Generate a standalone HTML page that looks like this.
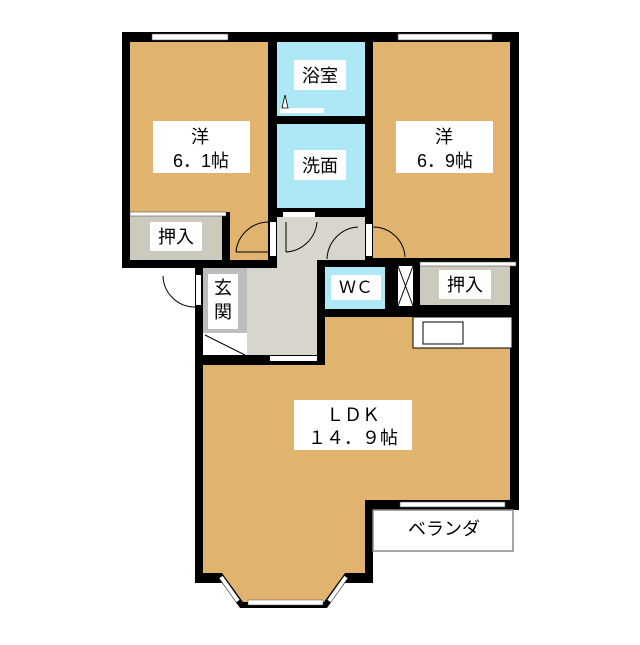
<!DOCTYPE html>
<html><head><meta charset="utf-8"><style>
body{margin:0;background:#fff}
text{font-family:"Liberation Sans","Noto Sans CJK JP",sans-serif;fill:#000}
</style></head><body>
<svg width="640" height="640" viewBox="0 0 640 640" xmlns="http://www.w3.org/2000/svg">
<rect width="640" height="640" fill="#fff"/>
<!-- black masses -->
<rect x="122" y="32" width="397" height="236" fill="#000"/>
<rect x="195" y="258" width="130" height="107" fill="#000"/>
<rect x="317" y="258" width="202" height="252" fill="#000"/>
<rect x="195" y="355" width="178" height="228" fill="#000"/>
<!-- rooms -->
<rect x="130" y="42" width="138" height="218" fill="#e0b46e"/>
<rect x="373" y="42" width="137" height="216" fill="#e0b46e"/>
<rect x="277" y="42" width="88" height="74" fill="#aee8f6"/>
<rect x="277" y="124" width="88" height="84" fill="#aee8f6"/>
<!-- left closet -->
<rect x="130" y="212" width="92" height="48" fill="#ccc9bd"/>
<rect x="222" y="212" width="8" height="48" fill="#000"/>
<rect x="130" y="212" width="96" height="4" fill="#fff" stroke="#555" stroke-width="0.6"/>
<!-- hallway -->
<rect x="277" y="217" width="88" height="43" fill="#d8d5cc"/>
<rect x="277" y="217" width="40" height="51" fill="#d8d5cc"/>
<rect x="247" y="268" width="70" height="87" fill="#d8d5cc"/>
<rect x="203" y="268" width="44" height="65" fill="#bdbdbd"/>
<rect x="208" y="274" width="30" height="55" fill="#fff"/>
<rect x="203" y="333" width="44" height="22" fill="#fff"/>
<line x1="205" y1="335" x2="245" y2="355" stroke="#000" stroke-width="1"/>
<!-- WC area -->
<rect x="325" y="267" width="60" height="42" fill="#aee8f6"/>
<rect x="398" y="266" width="15" height="40" fill="#fff"/>
<line x1="398" y1="266" x2="413" y2="306" stroke="#000"/><line x1="413" y1="266" x2="398" y2="306" stroke="#000"/>
<rect x="420" y="266" width="90" height="39" fill="#ccc9bd"/>
<rect x="420" y="262" width="96" height="4" fill="#fff" stroke="#555" stroke-width="0.6"/>
<!-- LDK -->
<rect x="325" y="317" width="185" height="183" fill="#e0b46e"/>
<rect x="203" y="365" width="162" height="208" fill="#e0b46e"/>
<rect x="325" y="317" width="40" height="60" fill="#e0b46e"/>
<rect x="270" y="356" width="47" height="5" fill="#fff"/>
<!-- kitchen -->
<rect x="413" y="317" width="99" height="31" fill="#fff" stroke="#000" stroke-width="1"/>
<rect x="423" y="322" width="40" height="22" fill="#fff" stroke="#000" stroke-width="1"/>
<!-- bay window -->
<polygon points="215,573 240,608 327,608 352,573" fill="#000"/>
<polygon points="222,573 243,602 324,602 345,573" fill="#e0b46e"/>
<rect x="248" y="600" width="75" height="5" fill="#fff" stroke="#555" stroke-width="0.5"/>
<line x1="221" y1="577" x2="238" y2="601" stroke="#fff" stroke-width="4"/>
<line x1="346" y1="577" x2="329" y2="601" stroke="#fff" stroke-width="4"/>
<!-- veranda -->
<rect x="373" y="510" width="140" height="41" fill="#fff" stroke="#888" stroke-width="1.5"/>
<rect x="400" y="502" width="105" height="5" fill="#fff" stroke="#555" stroke-width="0.6"/>
<!-- windows top -->
<rect x="152" y="34" width="76" height="6" fill="#fff" stroke="#555" stroke-width="0.6"/>
<rect x="398" y="34" width="94" height="6" fill="#fff" stroke="#555" stroke-width="0.6"/>
<!-- doors -->
<rect x="283" y="212" width="32" height="5" fill="#fff"/>
<rect x="280" y="108" width="44" height="5" fill="#fff"/>
<polygon points="282,108 285,95 288,108" fill="#fff" stroke="#000" stroke-width="0.8"/>
<rect x="270" y="222" width="6" height="34" fill="#fff"/>
<path d="M236,252 A33,33 0 0 1 268,222" fill="none" stroke="#000"/>
<line x1="236" y1="252" x2="268" y2="252" stroke="#000"/>
<path d="M286,252 A33,33 0 0 0 317,222" fill="none" stroke="#000"/>
<line x1="286" y1="222" x2="286" y2="252" stroke="#000"/>
<rect x="366" y="224" width="6" height="32" fill="#fff"/>
<path d="M373,227 A32,32 0 0 1 405,257" fill="none" stroke="#000"/>
<path d="M327,259 A33,33 0 0 1 358,227" fill="none" stroke="#000"/>
<rect x="196" y="275" width="5" height="30" fill="#fff"/>
<path d="M163,276 A32,32 0 0 0 195,307" fill="none" stroke="#000"/>
<!-- labels -->
<rect x="153" y="121" width="97" height="52" fill="#fff"/>
<text x="200" y="143" font-size="18" text-anchor="middle">洋</text>
<text x="201" y="167" font-size="18" text-anchor="middle">6．1帖</text>
<rect x="396" y="121" width="97" height="52" fill="#fff"/>
<text x="444" y="143" font-size="18" text-anchor="middle">洋</text>
<text x="445" y="167" font-size="18" text-anchor="middle">6．9帖</text>
<rect x="294" y="60" width="52" height="30" fill="#fff"/>
<text x="320" y="82" font-size="18" text-anchor="middle">浴室</text>
<rect x="294" y="150" width="52" height="30" fill="#fff"/>
<text x="320" y="172" font-size="18" text-anchor="middle">洗面</text>
<rect x="150" y="222" width="52" height="29" fill="#fff"/>
<text x="176" y="243" font-size="18" text-anchor="middle">押入</text>
<rect x="439" y="270" width="52" height="29" fill="#fff"/>
<text x="465" y="291" font-size="18" text-anchor="middle">押入</text>
<rect x="331" y="275" width="50" height="25" fill="#fff"/>
<text x="356" y="293" font-size="17" text-anchor="middle">ＷＣ</text>
<text x="223" y="294" font-size="18" text-anchor="middle">玄</text>
<text x="223" y="318" font-size="18" text-anchor="middle">関</text>
<rect x="294" y="400" width="118" height="50" fill="#fff"/>
<text x="353" y="421" font-size="18" text-anchor="middle">ＬＤＫ</text>
<text x="353" y="444" font-size="18" text-anchor="middle">１４．９帖</text>
<text x="444" y="535" font-size="18" text-anchor="middle">ベランダ</text>
</svg>
</body></html>
